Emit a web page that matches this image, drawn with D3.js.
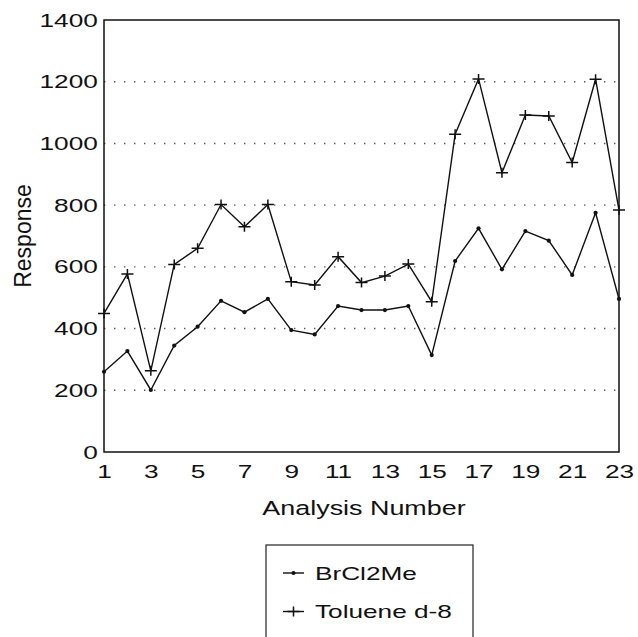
<!DOCTYPE html>
<html lang="en">
<head>
<meta charset="UTF-8">
<title>Response vs Analysis Number</title>
<script src="https://cdn.jsdelivr.net/npm/d3@7"></script>
<style>
  body { margin: 0; background: #fff; }
  text { font-family: "Liberation Sans", Arial, sans-serif; fill: #111; }
</style>
</head>
<body>
<svg class="root"></svg>
<script>
  // data
  const analysisNumbers = d3.range(1, 24);
  const brcl2me = [260, 327, 201, 345, 406, 490, 453, 496, 395, 381, 473, 460, 460, 473, 314, 619, 725, 592, 716, 685, 574, 775, 496];
  const toluene = [449, 577, 263, 608, 660, 802, 730, 802, 552, 541, 633, 549, 570, 609, 487, 1030, 1209, 905, 1092, 1089, 938, 1208, 784];
  const xTicks = [1, 3, 5, 7, 9, 11, 13, 15, 17, 19, 21, 23];
  const yTicks = [0, 200, 400, 600, 800, 1000, 1200, 1400];
  const gridValues = [200, 400, 600, 800, 1000, 1200];
  const seriesNames = ["BrCl2Me", "Toluene d-8"];

  const width = 638, height = 637;
  const margin = {top: 20, right: 19, bottom: 185, left: 104};
  const stretch = 1.38; // the scan's lettering is wide

  const x = d3.scaleLinear().domain([1, 23]).range([margin.left, width - margin.right]);
  const y = d3.scaleLinear().domain([0, 1400]).range([height - margin.bottom, margin.top]);

  const svg = d3.select(".root")
      .attr("width", width)
      .attr("height", height);

  svg.append("rect").attr("width", width).attr("height", height).attr("fill", "#fff");

  // dotted grid
  svg.append("g")
    .selectAll("line")
    .data(gridValues)
    .join("line")
      .attr("x1", x(1)).attr("x2", x(23))
      .attr("y1", d => y(d)).attr("y2", d => y(d))
      .attr("stroke", "#555")
      .attr("stroke-width", 1.4)
      .attr("stroke-dasharray", "1.4,8.6");

  // frame
  svg.append("rect")
      .attr("x", x(1)).attr("y", y(1400))
      .attr("width", x(23) - x(1)).attr("height", y(0) - y(1400))
      .attr("fill", "none")
      .attr("stroke", "#111")
      .attr("stroke-width", 1.5);

  const yAxis = g => g
      .attr("transform", `translate(${x(1)},0)`)
      .call(d3.axisLeft(y).tickValues(yTicks).tickFormat(d3.format("d")).tickSize(0).tickPadding(4.5))
      .call(g => g.select(".domain").remove())
      .attr("font-family", null).attr("font-size", null)
      .call(g => g.selectAll("text")
          .style("font-size", "19px")
          .attr("transform", `scale(${stretch},1)`));

  const xAxis = g => g
      .attr("transform", `translate(0,${y(0)})`)
      .call(d3.axisBottom(x).tickValues(xTicks).tickSize(0).tickPadding(13))
      .call(g => g.select(".domain").remove())
      .attr("font-family", null).attr("font-size", null)
      .call(g => g.selectAll("text")
          .style("font-size", "19px")
          .attr("transform", `scale(${stretch},1)`));

  svg.append("g").call(yAxis);
  svg.append("g").call(xAxis);

  // axis titles
  svg.append("text")
      .attr("transform", `translate(364,515) scale(${stretch},1)`)
      .attr("text-anchor", "middle")
      .style("font-size", "19.5px")
      .text("Analysis Number");

  svg.append("text")
      .attr("transform", "translate(31,236) rotate(-90)")
      .attr("text-anchor", "middle")
      .style("font-size", "23px")
      .text("Response");

  const line = d3.line()
      .x((d, i) => x(analysisNumbers[i]))
      .y(d => y(d));

  const plus = "M-6,0H6M0,-5V5";

  // BrCl2Me: dots
  svg.append("path")
      .datum(brcl2me)
      .attr("d", line)
      .attr("fill", "none")
      .attr("stroke", "#111")
      .attr("stroke-width", 1.4);

  svg.append("g")
    .selectAll("circle")
    .data(brcl2me)
    .join("circle")
      .attr("cx", (d, i) => x(analysisNumbers[i]))
      .attr("cy", d => y(d))
      .attr("r", 2.1)
      .attr("fill", "#111");

  // Toluene d-8: plus marks
  svg.append("path")
      .datum(toluene)
      .attr("d", line)
      .attr("fill", "none")
      .attr("stroke", "#111")
      .attr("stroke-width", 1.4);

  svg.append("g")
    .selectAll("path")
    .data(toluene)
    .join("path")
      .attr("transform", (d, i) => `translate(${x(analysisNumbers[i])},${y(d)})`)
      .attr("d", plus)
      .attr("stroke", "#111")
      .attr("stroke-width", 1.5);

  // legend
  const legend = svg.append("g").attr("transform", "translate(266,545)");
  legend.append("rect")
      .attr("width", 207).attr("height", 110)
      .attr("fill", "#fff")
      .attr("stroke", "#222")
      .attr("stroke-width", 1.2);

  const item = legend.selectAll("g.item")
    .data(seriesNames)
    .join("g")
      .attr("class", "item")
      .attr("transform", (d, i) => `translate(0,${28 + i * 38.5})`);

  item.append("line")
      .attr("x1", 17).attr("x2", 38)
      .attr("stroke", "#111").attr("stroke-width", 1.4);

  item.filter((d, i) => i === 0).append("circle")
      .attr("cx", 27.5).attr("r", 2.1).attr("fill", "#111");
  item.filter((d, i) => i === 1).append("path")
      .attr("transform", "translate(27.5,0)")
      .attr("d", plus)
      .attr("stroke", "#111").attr("stroke-width", 1.5);

  item.append("text")
      .attr("transform", `translate(49,0) scale(${stretch},1)`)
      .attr("dy", "0.35em")
      .style("font-size", "19px")
      .text(d => d);
</script>
</body>
</html>
